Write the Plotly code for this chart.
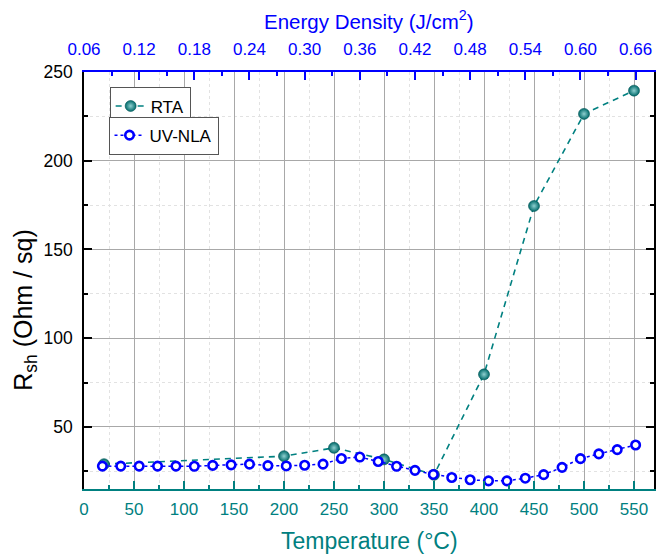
import plotly.graph_objects as go

# ---- data ----
rta_temp = [20, 200, 250, 300, 350, 400, 450, 500, 550]
rta_rsh = [29.0, 33.5, 38.2, 31.7, 23.0, 79.6, 174.5, 226.4, 239.5]

uv_energy = [0.08, 0.10, 0.12, 0.14, 0.16, 0.18, 0.20, 0.22, 0.24, 0.26,
             0.28, 0.30, 0.32, 0.34, 0.36, 0.38, 0.40, 0.42, 0.44, 0.46,
             0.48, 0.50, 0.52, 0.54, 0.56, 0.58, 0.60, 0.62, 0.64, 0.66]
uv_rsh = [27.9, 27.9, 27.9, 27.9, 27.9, 27.8, 28.3, 28.6, 29.0, 28.2,
          28.0, 28.4, 29.0, 32.2, 33.0, 30.5, 27.8, 25.5, 23.2, 21.5,
          20.2, 19.6, 19.6, 21.1, 23.1, 27.2, 32.1, 34.8, 37.2, 39.8]

temp_ticks = [0, 50, 100, 150, 200, 250, 300, 350, 400, 450, 500, 550]
energy_ticks = [0.06, 0.12, 0.18, 0.24, 0.30, 0.36, 0.42, 0.48, 0.54, 0.60, 0.66]
y_ticks = [50, 100, 150, 200, 250]

TEAL = "#008080"
BLUE = "#0000ff"
FONT = "Liberation Sans, Arial, sans-serif"

fig = go.Figure()

fig.add_trace(go.Scatter(
    x=rta_temp, y=rta_rsh, name="RTA", mode="lines+markers",
    xaxis="x", yaxis="y", legend="legend",
    line=dict(color=TEAL, width=1.6, dash="6px,5px"),
    marker=dict(size=11, color="#006a6a", symbol="circle",
                gradient=dict(type="radial", color="#8fd0d0"),
                line=dict(color="#005555", width=0.6)),
))

fig.add_trace(go.Scatter(
    x=uv_energy, y=uv_rsh, name="UV-NLA", mode="lines+markers",
    xaxis="x2", yaxis="y", legend="legend2",
    line=dict(color=BLUE, width=1.5, dash="3px,3px"),
    marker=dict(size=8.5, color="white", symbol="circle",
                line=dict(color=BLUE, width=2.6)),
))

fig.update_layout(
    width=662, height=547,
    margin=dict(l=76, r=16, t=64, b=66),
    paper_bgcolor="white", plot_bgcolor="white",
    font=dict(family=FONT, size=16, color="black"),
    showlegend=True,
    xaxis=dict(
        range=[0, 570], tickvals=temp_ticks, ticktext=[str(t) for t in temp_ticks],
        ticks="inside", ticklen=8, tickwidth=1.5, tickcolor=TEAL,
        showline=True, linecolor=TEAL, linewidth=1.5, mirror=False,
        tickfont=dict(color=TEAL, size=17, family=FONT), ticklabelstandoff=4,
        showgrid=True, gridcolor="#a8a8a8", gridwidth=1,
        minor=dict(dtick=25, tick0=0, ticks="inside", ticklen=4, tickcolor=TEAL,
                   showgrid=True, gridcolor="#e2e2e2", griddash="dot", gridwidth=1),
        zeroline=False,
    ),
    xaxis2=dict(
        overlaying="x", side="top", anchor="y",
        range=[0.06, 0.68], tickvals=energy_ticks,
        ticktext=[f"{e:.2f}" for e in energy_ticks],
        ticks="inside", ticklen=8, tickwidth=1.5, tickcolor=BLUE,
        showline=True, linecolor=BLUE, linewidth=1.5,
        tickfont=dict(color=BLUE, size=17, family=FONT), ticklabelstandoff=8,
        showgrid=False,
        minor=dict(dtick=0.03, tick0=0.06, ticks="inside", ticklen=4, tickcolor=BLUE,
                   showgrid=False),
        zeroline=False,
    ),
    yaxis=dict(
        range=[15, 250], tickvals=y_ticks, ticktext=[str(v) for v in y_ticks],
        ticks="inside", ticklen=8, tickwidth=1.5, tickcolor="black",
        showline=True, linecolor="black", linewidth=1.5, mirror="ticks",
        tickfont=dict(color="black", size=17.5, family=FONT), ticklabelstandoff=6,
        showgrid=True, gridcolor="#a8a8a8", gridwidth=1,
        minor=dict(dtick=25, tick0=0, ticks="inside", ticklen=4, tickcolor="black",
                   showgrid=True, gridcolor="#e2e2e2", griddash="dot", gridwidth=1),
        zeroline=False,
    ),
    legend=dict(
        x=0.045, y=0.963, xanchor="left", yanchor="top",
        bgcolor="white", bordercolor="#555555", borderwidth=1,
        font=dict(size=17, family=FONT, color="black"),
        tracegroupgap=0, itemwidth=30,
    ),
    legend2=dict(
        x=0.043, y=0.893, xanchor="left", yanchor="top",
        bgcolor="white", bordercolor="#555555", borderwidth=1,
        font=dict(size=17, family=FONT, color="black"),
        tracegroupgap=0, itemwidth=30,
    ),
    annotations=[
        dict(text="Temperature (°C)", xref="paper", yref="paper",
             x=0.5, y=-0.1246, xanchor="center", yanchor="middle", showarrow=False,
             font=dict(size=23, color=TEAL, family=FONT)),
        dict(text="Energy Density (J/cm<sup>2</sup>)", xref="paper", yref="paper",
             x=0.5, y=1.124, xanchor="center", yanchor="middle", showarrow=False,
             font=dict(size=20.5, color=BLUE, family=FONT)),
        dict(text="R<sub>sh</sub> (Ohm / sq)", xref="paper", yref="paper",
             x=-0.104, y=0.429, xanchor="center", yanchor="middle", showarrow=False,
             textangle=-90, font=dict(size=25, color="black", family=FONT)),
    ],
)

fig.write_html("out.html")
